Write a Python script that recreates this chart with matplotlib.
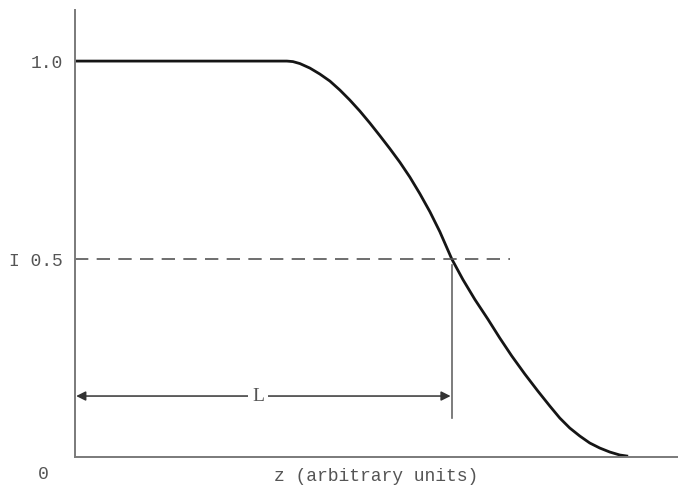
"""
Intensity I along z: flat plateau, then a smooth roll-off to zero.
The distance L runs from z = 0 to the half-intensity point.
"""

import matplotlib
matplotlib.use("Agg")
from matplotlib import pyplot as plt

# Curve values (z in arbitrary units, I normalised)
z_vals = [0.0, 3.533, 3.633, 3.75, 3.917, 4.083, 4.25, 4.417, 4.583, 4.75,
          4.917, 5.083, 5.25, 5.417, 5.583, 5.75, 5.917, 6.083, 6.283, 6.467,
          6.667, 6.883, 7.083, 7.283, 7.5, 7.717, 7.917, 8.083, 8.25, 8.417,
          8.583, 8.75, 8.917, 9.083, 9.2]
i_vals = [1.0, 1.0, 0.9987, 0.9937, 0.9823, 0.9672, 0.9495, 0.9268, 0.9015,
          0.8737, 0.8434, 0.8116, 0.7788, 0.7445, 0.7071, 0.6651, 0.6197,
          0.5692, 0.5, 0.4485, 0.398, 0.3485, 0.3005, 0.2551, 0.2096, 0.1667,
          0.1288, 0.0985, 0.0732, 0.053, 0.0354, 0.0227, 0.0126, 0.0051,
          0.0025]

# Half-intensity point and the L marker
z_half = 6.283
i_half = 0.5
dash_end = 7.25
marker_top = 0.485
marker_bottom = 0.098
arrow_level = 0.154

ytick_vals = [1.0, 0.5]
ytick_labels = ["1.0", "I 0.5"]

mono = ["Liberation Mono", "DejaVu Sans Mono"]
serif = ["Liberation Serif", "DejaVu Serif"]
text_color = "#555555"
axis_color = "#7a7a7a"

fig = plt.figure(figsize=(6.78, 4.88), dpi=100)
ax = fig.add_axes([0.1106, 0.0635, 0.889, 0.916])

ax.spines["top"].set_visible(False)
ax.spines["right"].set_visible(False)
for side in ["left", "bottom"]:
    ax.spines[side].set_color(axis_color)
    ax.spines[side].set_linewidth(1.4)

# Main curve
ax.plot(z_vals, i_vals, color="#151515", lw=2.0, solid_joinstyle="round")

# Dashed half level
ax.plot([0, dash_end], [i_half, i_half], color="#555555", lw=1.2,
        dashes=(8, 5))

# Vertical marker at the half-intensity point
ax.plot([z_half, z_half], [marker_bottom, marker_top], color="#666666", lw=1.2)

# Double arrow for L
ax.annotate("", xy=(0.02, arrow_level), xytext=(z_half - 0.02, arrow_level),
            arrowprops=dict(arrowstyle="<|-|>", color="#333333", lw=1.1,
                            mutation_scale=14, shrinkA=0, shrinkB=0))
ax.text(3.05, arrow_level, "L", ha="center", va="center", fontsize=14,
        family=serif, color=text_color,
        bbox=dict(facecolor="white", edgecolor="none", pad=3))

ax.set_xlim(0, 10.05)
ax.set_ylim(0, 1.129)
ax.set_xticks([])
ax.set_yticks(ytick_vals)
ax.set_yticklabels(ytick_labels, family=mono, fontsize=13, color=text_color)
ax.tick_params(axis="y", length=0, pad=9)

ax.set_xlabel("z (arbitrary units)", family=mono, fontsize=13,
              color=text_color, labelpad=8)
ax.text(-0.53, -0.045, "0", ha="center", va="center", fontsize=13,
        family=mono, color=text_color, clip_on=False)

plt.savefig("out.png", dpi=100)
plt.close()
